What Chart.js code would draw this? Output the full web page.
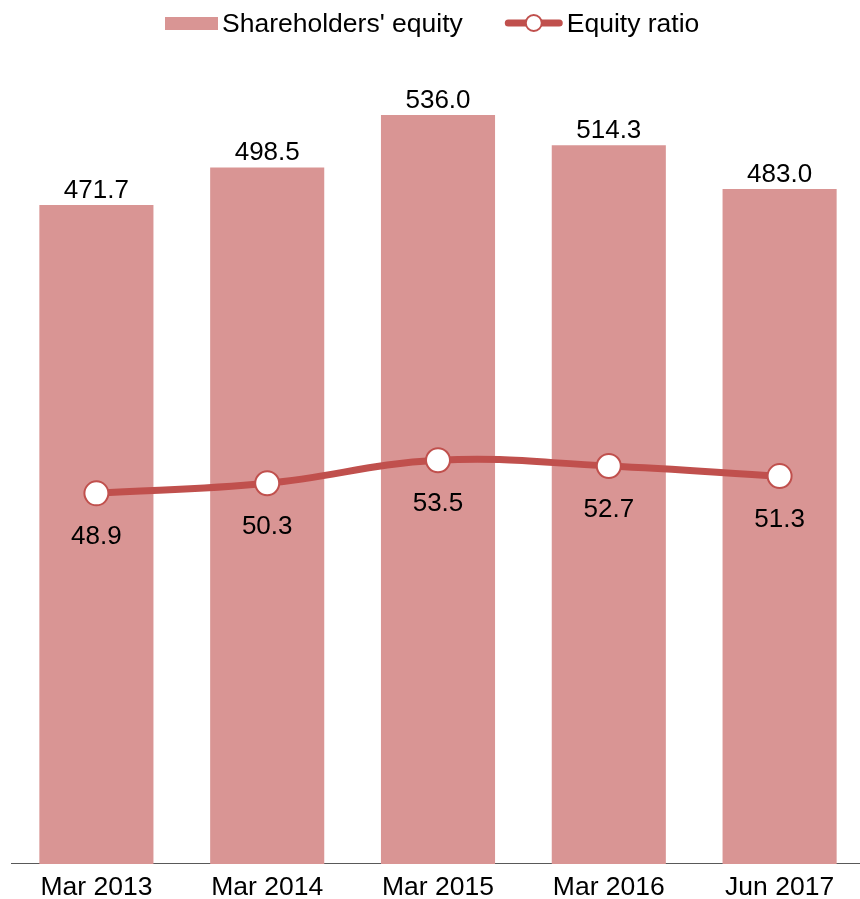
<!DOCTYPE html>
<html>
<head>
<meta charset="utf-8">
<script src="https://cdn.jsdelivr.net/npm/chart.js@4.4.0/dist/chart.umd.min.js"></script>
<style>
    html, body { margin: 0; padding: 0; background: #fff; overflow: hidden; }
    canvas { display: block; }
</style>
</head>
<body>
<canvas id="chart" width="866" height="899"></canvas>
<script>
// dados
const categories = ['Mar 2013', 'Mar 2014', 'Mar 2015', 'Mar 2016', 'Jun 2017'];
const equity = [471.7, 498.5, 536.0, 514.3, 483.0];
const equityRatio = [48.9, 50.3, 53.5, 52.7, 51.3];
const seriesNames = ["Shareholders' equity", 'Equity ratio'];

const BAR_COLOR = '#d99594';
const LINE_COLOR = '#c0504d';
const FONT = '"Liberation Sans", Arial, sans-serif';

// rótulos de valor em cima das barras / embaixo dos pontos
const valueLabels = {
    id: 'valueLabels',
    afterDatasetsDraw(chart) {
        const ctx = chart.ctx;
        ctx.save();
        ctx.font = '26px ' + FONT;
        ctx.fillStyle = '#000';
        ctx.textAlign = 'center';
        ctx.textBaseline = 'alphabetic';
        chart.data.datasets.forEach((ds, i) => {
            const meta = chart.getDatasetMeta(i);
            meta.data.forEach((el, j) => {
                const txt = ds.data[j].toFixed(1);
                if (ds.type === 'bar') {
                    ctx.fillText(txt, el.x, el.y - 7);
                } else {
                    ctx.fillText(txt, el.x, el.y + 51);
                }
            });
        });
        ctx.restore();
    }
};

// legenda desenhada à mão
const customLegend = {
    id: 'customLegend',
    afterDraw(chart) {
        const ctx = chart.ctx;
        ctx.save();
        ctx.font = '26.5px ' + FONT;
        ctx.textBaseline = 'alphabetic';
        let x = 165;
        const cy = 23;

        ctx.fillStyle = BAR_COLOR;
        ctx.fillRect(x, 17, 53, 13);
        x += 57;
        ctx.fillStyle = '#000';
        ctx.fillText(seriesNames[0], x, 32);
        x += ctx.measureText(seriesNames[0]).width + 42;

        ctx.strokeStyle = LINE_COLOR;
        ctx.lineWidth = 7;
        ctx.lineCap = 'round';
        ctx.beginPath();
        ctx.moveTo(x + 3.5, cy);
        ctx.lineTo(x + 54.5, cy);
        ctx.stroke();
        ctx.beginPath();
        ctx.arc(x + 29, cy, 8, 0, Math.PI * 2);
        ctx.fillStyle = '#fff';
        ctx.fill();
        ctx.lineWidth = 2;
        ctx.stroke();
        x += 62;
        ctx.fillStyle = '#000';
        ctx.fillText(seriesNames[1], x, 32);
        ctx.restore();
    }
};

new Chart(document.getElementById('chart'), {
    data: {
        labels: categories,
        datasets: [{
            type: 'line',
            label: seriesNames[1],
            data: equityRatio,
            yAxisID: 'y1',
            borderColor: LINE_COLOR,
            borderWidth: 7,
            tension: 0.4,
            pointRadius: 12,
            pointBackgroundColor: '#fff',
            pointBorderColor: LINE_COLOR,
            pointBorderWidth: 2,
            order: 0
        }, {
            type: 'bar',
            label: seriesNames[0],
            data: equity,
            yAxisID: 'y',
            backgroundColor: BAR_COLOR,
            borderWidth: 0,
            categoryPercentage: 1,
            barPercentage: 0.668,
            order: 1
        }]
    },
    options: {
        responsive: false,
        animation: false,
        layout: { autoPadding: false, padding: { top: 60, left: 11, right: 1, bottom: 0 } },
        plugins: {
            legend: { display: false },
            tooltip: { enabled: false }
        },
        scales: {
            x: {
                grid: { display: false, drawTicks: true, tickLength: 12 },
                border: { display: true, color: '#595959', width: 1 },
                ticks: {
                    color: '#000',
                    padding: 0,
                    font: { family: FONT, size: 26.5, lineHeight: 0.868 }
                }
            },
            y: {
                display: false,
                min: 0,
                max: 575.4
            },
            y1: {
                display: false,
                min: -2.58,
                max: 109.09
            }
        }
    },
    plugins: [valueLabels, customLegend]
});
</script>
</body>
</html>
